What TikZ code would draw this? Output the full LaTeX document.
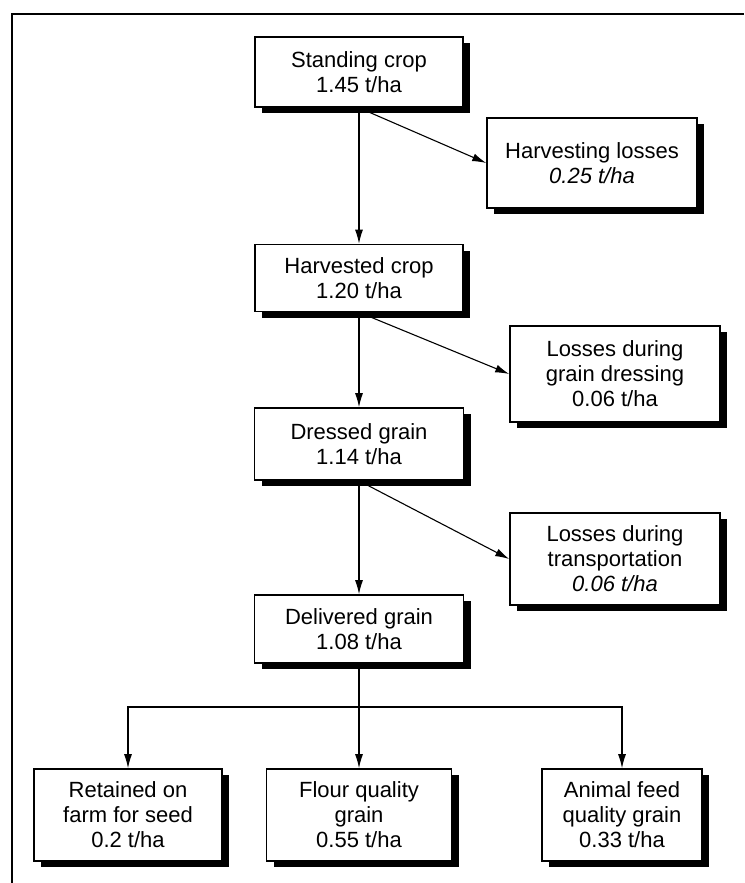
\documentclass[tikz,border=0pt]{standalone}
\usepackage{fontspec}
\setmainfont{Liberation Sans}
\usetikzlibrary{shadows,arrows.meta}
\begin{document}
\begin{tikzpicture}[x=1pt,y=-1pt,
  box/.style={draw=black, line width=1.6pt, fill=white, inner sep=0pt, align=center,
    font=\fontsize{22}{25}\selectfont,
    general shadow={fill=black, shadow xshift=7pt, shadow yshift=-6pt}},
  conn/.style={line width=1.1pt, -{Latex[length=14pt,width=8pt]}},
  plain/.style={line width=1.1pt}]
\useasboundingbox (0,0) rectangle (744,883);
\draw[line width=1.8pt] (12,883) -- (12,14) -- (744,14);
\node[box, minimum width=208pt, minimum height=70pt] (sc) at (359,72) {Standing crop\\1.45 t/ha};
\node[box, minimum width=210pt, minimum height=90pt] (hl) at (592,163) {Harvesting losses\\\textit{0.25 t/ha}};
\node[box, minimum width=208pt, minimum height=67pt] (hc) at (359,278) {Harvested crop\\1.20 t/ha};
\node[box, minimum width=210pt, minimum height=96pt] (gd) at (615,374) {Losses during\\grain dressing\\0.06 t/ha};
\node[box, minimum width=209pt, minimum height=72pt] (dg) at (359,444) {Dressed grain\\1.14 t/ha};
\node[box, minimum width=210pt, minimum height=92pt] (tr) at (615,559) {Losses during\\transportation\\\textit{0.06 t/ha}};
\node[box, minimum width=209pt, minimum height=68pt] (dl) at (359,629) {Delivered grain\\1.08 t/ha};
\node[box, minimum width=188pt, minimum height=92pt] (rs) at (128,815) {Retained on\\farm for seed\\0.2 t/ha};
\node[box, minimum width=185pt, minimum height=92pt] (fq) at (359,815) {Flour quality\\grain\\0.55 t/ha};
\node[box, minimum width=160pt, minimum height=92pt] (af) at (622,815) {Animal feed\\quality grain\\0.33 t/ha};
\coordinate (br) at (359,707);
\draw[conn] (sc.south) -- (hc.north);
\draw[conn] (sc.south) -- (hl.west);
\draw[conn] (hc.south) -- (dg.north);
\draw[conn] (hc.south) -- (gd.west);
\draw[conn] (dg.south) -- (dl.north);
\draw[conn] (dg.south) -- (tr.west);
\draw[conn] (dl.south) -- (fq.north);
\draw[conn] (br) -| (rs.north);
\draw[conn] (br) -| (af.north);
\end{tikzpicture}
\end{document}
